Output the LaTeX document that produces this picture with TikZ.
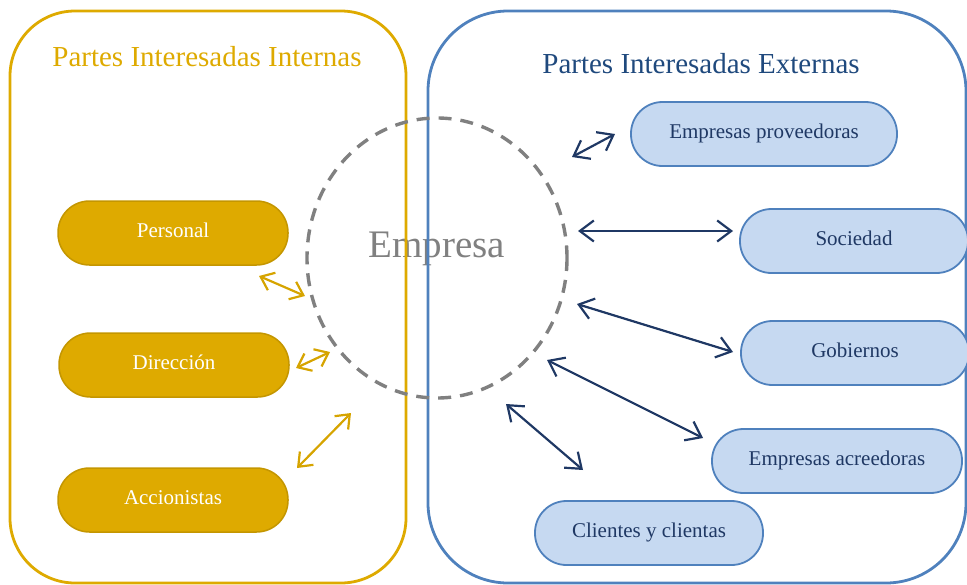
\documentclass[tikz,border=0pt]{standalone}
\usepackage{fontspec}
\setmainfont{Liberation Serif}
\usetikzlibrary{arrows.meta}
\definecolor{gold}{RGB}{222,170,0}
\definecolor{goldborder}{RGB}{196,150,0}
\definecolor{goldarrow}{RGB}{214,164,0}
\definecolor{bluebox}{RGB}{79,129,189}
\definecolor{bluefill}{RGB}{198,217,241}
\definecolor{bluetext}{RGB}{31,56,100}
\definecolor{bluetitle}{RGB}{31,73,125}
\definecolor{empgray}{RGB}{128,128,128}
\begin{document}
\begin{tikzpicture}[x=1pt,y=-1pt,
  pillbase/.style={rounded corners=31.5pt, minimum height=64pt, inner sep=0pt,
    font=\fontsize{21}{24}\selectfont, text height=1.0em, text depth=0.05em},
  goldpill/.style={pillbase, draw=goldborder, fill=gold, line width=1.5pt, text=white, minimum width=230pt},
  bluepill/.style={pillbase, draw=bluebox, fill=bluefill, line width=1.8pt, text=bluetext},
  goldarr/.style={draw=goldarrow, line width=2.2pt,
    {Straight Barb[length=12pt,width=19pt]}-{Straight Barb[length=12pt,width=19pt]}},
  bluearr/.style={draw=bluetext, line width=2.2pt,
    {Straight Barb[length=14pt,width=21pt]}-{Straight Barb[length=14pt,width=21pt]}},
  titlefont/.style={font=\fontsize{29}{32}\selectfont, anchor=base}
]
\useasboundingbox (0,0) rectangle (967,584);
% Empresa text
\node[font=\fontsize{39}{42}\selectfont, text=empgray, anchor=base] (emp) at (437,257) {Empresa};
% boxes
\draw[gold, line width=2.8pt, rounded corners=65pt] (10,11) rectangle (406,583);
\draw[bluebox, line width=2.8pt, rounded corners=80pt] (428,11) rectangle (966,583);
% titles
\node[titlefont, text=gold] (tint) at (207,66) {Partes Interesadas Internas};
\node[titlefont, text=bluetitle] (text) at (701,73) {Partes Interesadas Externas};
% dashed circle
\draw[empgray, line width=3.4pt, dash pattern=on 13pt off 9pt] (437,258) ellipse [x radius=130, y radius=140];
% gold pills
\node[goldpill] (pers) at (173,233) {Personal};
\node[goldpill] (dir) at (174,365) {Dirección};
\node[goldpill] (acc) at (173,500) {Accionistas};
% blue pills
\node[bluepill, minimum width=266pt] (prov) at (764,134) {Empresas proveedoras};
\node[bluepill, minimum width=228pt] (soc) at (854,241) {Sociedad};
\node[bluepill, minimum width=228pt] (gob) at (855,353) {Gobiernos};
\node[bluepill, minimum width=250pt] (acr) at (837,461) {Empresas acreedoras};
\node[bluepill, minimum width=228pt] (cli) at (649,533) {Clientes y clientas};
% arrow end points
\coordinate (pa) at (259,276); \coordinate (pb) at (305,296);
\coordinate (da) at (296,368); \coordinate (db) at (330,352);
\coordinate (aa) at (297,468); \coordinate (ab) at (351,413);
\coordinate (pra) at (572,157); \coordinate (prb) at (615,134);
\coordinate (soa) at (578,231); \coordinate (sob) at (733,231);
\coordinate (goa) at (577,304); \coordinate (gob2) at (733,352);
\coordinate (aca) at (547,360); \coordinate (acb) at (703,438);
\coordinate (cla) at (506,404); \coordinate (clb) at (583,470);
% arrows
\draw[goldarr] (pa) -- (pb);
\draw[goldarr] (da) -- (db);
\draw[goldarr] (aa) -- (ab);
\draw[bluearr] (pra) -- (prb);
\draw[bluearr] (soa) -- (sob);
\draw[bluearr] (goa) -- (gob2);
\draw[bluearr] (aca) -- (acb);
\draw[bluearr] (cla) -- (clb);
\end{tikzpicture}
\end{document}
